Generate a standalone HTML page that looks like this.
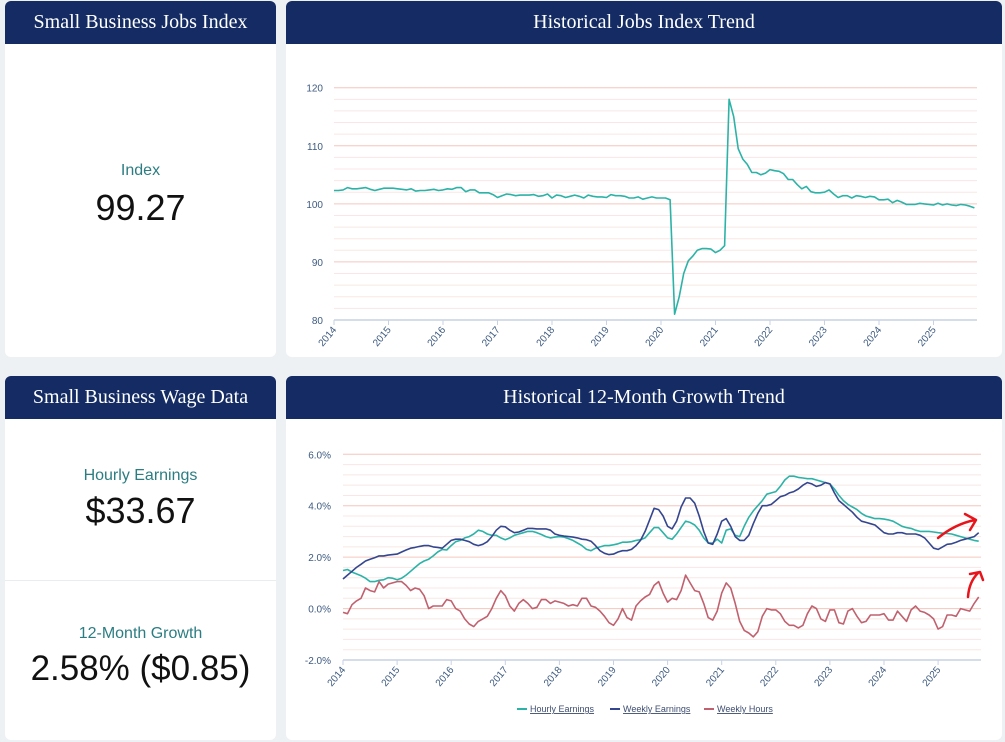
<!DOCTYPE html>
<html><head><meta charset="utf-8"><style>
body{margin:0;width:1005px;height:742px;background:#eef1f4;position:relative;overflow:hidden;font-family:"Liberation Sans",sans-serif}
.card{position:absolute;background:#fff;border-radius:6px;overflow:hidden}
.hdr{background:#142c63;color:#fff;font-family:"Liberation Serif",serif;font-size:20px;text-align:center;height:43px;line-height:42px}
.lbl{position:absolute;left:0;width:100%;text-align:center;color:#2b7d82;font-size:16px}
.val{position:absolute;left:0;width:100%;text-align:center;color:#111;font-size:36px}
svg{position:absolute;left:0;top:0}
</style></head><body>
<div class="card" style="left:5px;top:1px;width:271px;height:356px">
<div class="hdr">Small Business Jobs Index</div>
<div class="lbl" style="top:161px">Index</div>
<div class="val" style="top:186px">99.27</div>
</div>
<div class="card" style="left:286px;top:1px;width:716px;height:356px">
<div class="hdr">Historical Jobs Index Trend</div>
</div>
<div class="card" style="left:5px;top:376px;width:271px;height:364px">
<div class="hdr">Small Business Wage Data</div>
<div class="lbl" style="top:91px">Hourly Earnings</div>
<div class="val" style="top:114px">$33.67</div>
<div style="position:absolute;left:0;top:204px;width:100%;height:1px;background:#e8eef0"></div>
<div class="lbl" style="top:249px">12-Month Growth</div>
<div class="val" style="top:273px;font-size:35px">2.58% ($0.85)</div>
</div>
<div class="card" style="left:286px;top:376px;width:716px;height:364px">
<div class="hdr">Historical 12-Month Growth Trend</div>
</div>
<svg id="s" width="1005" height="742"></svg>
<script>
const years=[2014,2015,2016,2017,2018,2019,2020,2021,2022,2023,2024,2025];
const jobTicks=[80,90,100,110,120];
const growthTicks=[-2,0,2,4,6];
const jobsIndex=[
102.3,102.3,102.4,102.8,102.6,102.6,102.7,102.8,102.5,102.3,102.5,102.7,
102.7,102.7,102.6,102.5,102.4,102.6,102.2,102.3,102.3,102.4,102.5,102.3,
102.4,102.6,102.5,102.8,102.8,102.1,102.4,102.4,101.9,101.9,101.9,101.6,
101.1,101.4,101.7,101.6,101.4,101.5,101.5,101.5,101.6,101.3,101.4,101.7,
101.0,101.5,101.4,101.1,101.3,101.5,101.3,101.0,101.5,101.3,101.2,101.2,
101.1,101.6,101.4,101.4,101.3,101.0,101.0,101.2,100.8,101.0,101.2,101.0,
101.0,101.0,100.7,81.0,84,88,90.2,91.0,92.0,92.3,92.3,92.2,
91.6,92.0,92.8,118,115,109.5,107.7,106.8,105.4,105.4,105.0,105.3,
105.9,105.7,105.6,105.2,104.2,104.2,103.3,102.6,103.0,102.1,101.9,101.9,
102.0,102.4,101.7,101.1,101.4,101.4,101.0,101.4,101.3,101.1,101.3,101.2,
100.7,100.7,100.8,100.2,100.6,100.3,99.9,99.9,99.9,100.1,100.0,99.9,
99.8,100.1,99.8,100.0,99.8,99.7,99.9,99.8,99.6,99.3];
const hourly=[
1.48,1.52,1.42,1.35,1.28,1.18,1.05,1.05,1.10,1.12,1.20,1.18,
1.12,1.18,1.30,1.45,1.60,1.75,1.85,1.92,2.05,2.20,2.30,2.28,
2.45,2.60,2.65,2.75,2.80,2.90,3.05,3.00,2.90,2.85,2.85,2.75,
2.68,2.75,2.85,2.90,2.95,3.00,3.00,2.95,2.88,2.80,2.75,2.78,
2.80,2.78,2.72,2.65,2.55,2.45,2.30,2.25,2.35,2.40,2.45,2.45,
2.48,2.52,2.58,2.58,2.60,2.65,2.68,2.75,2.95,3.15,3.15,2.95,
2.75,2.70,2.90,3.15,3.40,3.35,3.25,3.05,2.75,2.55,2.55,2.70,
2.55,3.05,3.10,2.85,2.80,3.20,3.55,3.80,4.00,4.20,4.45,4.50,
4.55,4.75,5.00,5.15,5.15,5.10,5.08,5.05,5.05,5.00,4.95,4.90,
4.85,4.65,4.40,4.20,4.05,3.95,3.85,3.70,3.60,3.55,3.50,3.50,
3.48,3.45,3.40,3.30,3.20,3.15,3.12,3.05,3.00,3.00,3.00,2.98,
2.95,2.93,2.92,2.90,2.85,2.80,2.75,2.70,2.65,2.62];
const weekly=[
1.15,1.30,1.45,1.60,1.72,1.85,1.92,1.98,2.05,2.05,2.08,2.10,
2.12,2.20,2.28,2.35,2.38,2.42,2.45,2.45,2.40,2.38,2.35,2.50,
2.65,2.70,2.70,2.65,2.60,2.50,2.45,2.50,2.60,2.80,3.05,3.20,
3.18,3.05,2.95,2.98,3.05,3.12,3.12,3.10,3.10,3.10,3.05,2.90,
2.85,2.82,2.80,2.78,2.75,2.70,2.68,2.62,2.45,2.25,2.15,2.10,
2.12,2.20,2.25,2.25,2.30,2.45,2.65,3.00,3.45,3.90,3.85,3.60,
3.20,3.10,3.40,3.95,4.30,4.30,4.10,3.60,3.00,2.55,2.50,2.90,
3.40,3.50,3.20,2.80,2.65,2.65,2.85,3.30,3.70,4.00,4.00,4.05,
4.20,4.35,4.40,4.50,4.55,4.65,4.80,4.90,4.85,4.75,4.80,4.90,
4.85,4.50,4.20,4.05,3.90,3.75,3.55,3.40,3.35,3.30,3.25,3.10,
2.95,2.90,2.90,2.95,2.95,2.90,2.90,2.90,2.85,2.75,2.55,2.35,
2.30,2.40,2.50,2.52,2.58,2.65,2.70,2.75,2.80,2.95];
const hours=[
-0.15,-0.2,0.15,0.3,0.4,0.8,0.7,0.65,1.05,0.8,0.95,1.0,
1.05,1.05,0.9,0.7,0.8,0.75,0.5,0.0,0.1,0.1,0.1,0.35,
0.3,0.0,-0.1,-0.4,-0.6,-0.7,-0.5,-0.4,-0.3,0.0,0.4,0.7,
0.5,0.1,-0.1,0.2,0.35,0.2,0.0,0.05,0.35,0.35,0.2,0.3,
0.25,0.2,0.1,0.15,0.1,0.4,0.4,0.1,0.05,-0.1,-0.3,-0.55,
-0.65,-0.4,0.0,-0.35,-0.45,0.1,0.3,0.45,0.55,0.9,1.05,0.6,
0.25,0.4,0.35,0.7,1.3,1.0,0.7,0.65,0.2,-0.35,-0.45,-0.1,
0.6,1.0,0.8,0.2,-0.5,-0.85,-0.95,-1.1,-0.9,-0.3,0.0,-0.05,
-0.05,-0.2,-0.5,-0.65,-0.65,-0.75,-0.65,-0.2,0.1,0.0,-0.4,-0.5,
-0.05,-0.05,-0.55,-0.6,-0.1,0.0,-0.3,-0.55,-0.5,-0.25,-0.25,-0.25,
-0.2,-0.45,-0.45,-0.1,-0.3,-0.5,-0.05,0.1,-0.1,-0.15,-0.25,-0.4,
-0.8,-0.7,-0.25,-0.25,-0.3,0.0,-0.05,-0.1,0.2,0.45];

const NS='http://www.w3.org/2000/svg';
const svg=document.getElementById('s');
function mk(tag,attrs,parent){const e=document.createElementNS(NS,tag);for(const k in attrs)e.setAttribute(k,attrs[k]);(parent||svg).appendChild(e);return e;}

function drawChart(o){
  const g=mk('g',{});
  
  
  const x=t=>o.x0+(t-2014)*o.xs;
  const y=v=>o.yTop+(o.yMax-v)/(o.yMax-o.yMin)*(o.yBot-o.yTop);
  for(let v=o.yMin;v<=o.yMax+1e-9;v+=o.minor){
    const major=o.ticks.some(t=>Math.abs(t-v)<1e-6);
    if(Math.abs(v-o.yMin)<1e-6)continue;
    const l=mk('line',{x1:o.x0,x2:o.xR,y1:y(v),y2:y(v),stroke:major?'#f5c6bd':'#f8e7e4','stroke-width':1},g);
    
    
  }
  o.ticks.forEach(v=>{
    const t=mk('text',{x:o.labX,y:y(v)+4,'text-anchor':'end','font-size':10,fill:'#3d5a80','font-family':'Liberation Sans, sans-serif'},g);
    t.textContent=o.fmt(v);
    
    
  });
  const ax=mk('line',{x1:o.x0,x2:o.xR,y1:o.yBot,y2:o.yBot,stroke:'#c9d2e3','stroke-width':1.5},g);
  
  
  years.forEach(yr=>{
    const px=x(yr);
    const tk=mk('line',{x1:px,x2:px,y1:o.yBot,y2:o.yBot+5,stroke:'#c9d2e3'},g);
    
    
    const t=mk('text',{x:px+3,y:o.yBot+10,'text-anchor':'end','font-size':10,fill:'#3d5a80','font-family':'Liberation Sans, sans-serif',transform:`rotate(-50 ${px+3} ${o.yBot+10})`},g);
    t.textContent=yr;
    
    
  });
  o.series.forEach(s=>{
    const pts=s.data.map((v,i)=>x(2014+i/12).toFixed(1)+','+y(v).toFixed(1)).join(' ');
    const p=mk('polyline',{points:pts,fill:'none',stroke:s.color,'stroke-width':1.6,'stroke-linejoin':'round'},g);
    
    
  });
}
drawChart({name:'jobs-index-chart',x0:334,xs:54.5,xR:977,yTop:87.7,yBot:320,yMin:80,yMax:120,minor:2,ticks:jobTicks,labX:323,fmt:v=>String(v),
  series:[{name:'jobs-index-line',data:jobsIndex,color:'#2bb3a8'}]});
drawChart({name:'growth-chart',x0:343,xs:54.1,xR:981,yTop:454.3,yBot:660,yMin:-2,yMax:6,minor:0.4,ticks:growthTicks,labX:331,fmt:v=>v.toFixed(1)+'%',
  series:[{name:'hourly-earnings-line',data:hourly,color:'#2bb3a8'},{name:'weekly-earnings-line',data:weekly,color:'#34468f'},{name:'weekly-hours-line',data:hours,color:'#c0616f'}]});

const legend=[['Hourly Earnings','#2bb3a8',517,'legend-hourly-earnings'],['Weekly Earnings','#34468f',610,'legend-weekly-earnings'],['Weekly Hours','#c0616f',704,'legend-weekly-hours']];
legend.forEach(l=>{
  const g=mk('g',{});
  
  
  mk('line',{x1:l[2],x2:l[2]+10,y1:709,y2:709,stroke:l[1],'stroke-width':2},g);
  const t=mk('text',{x:l[2]+13,y:712,'font-size':9,fill:'#3d4d70','text-decoration':'underline','font-family':'Liberation Sans, sans-serif'},g);
  t.textContent=l[0];
});
</script>
<svg width="1005" height="742" style="pointer-events:none">
<path d="M938 538 Q955 524 975 520 M965 514 L976 520 L970 530" fill="none" stroke="#e8141c" stroke-width="2.5" stroke-linecap="round" stroke-linejoin="round"/>
<path d="M968 597 Q969 582 978 573 M970 574 L980 572 L983 580" fill="none" stroke="#e8141c" stroke-width="2.5" stroke-linecap="round" stroke-linejoin="round"/>
</svg>
</body></html>
